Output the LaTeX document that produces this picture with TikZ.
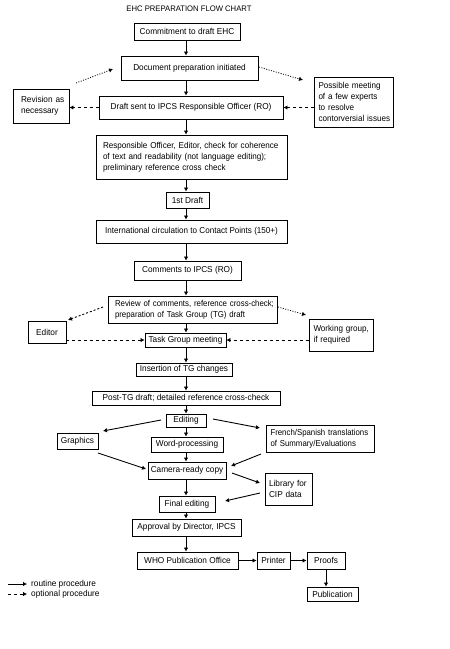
\documentclass[tikz,border=0pt]{standalone}
\usepackage{fontspec}
\setmainfont[FakeStretch=0.96]{Liberation Sans}
\newfontfamily\narrowf[FakeStretch=0.91]{Liberation Sans}
\newfontfamily\semif[FakeStretch=0.94]{Liberation Sans}
\usetikzlibrary{arrows.meta,calc}
\newcommand{\fsz}{\fontsize{8.6}{11}\selectfont}
\newcommand{\lx}[1]{\mbox{#1}}
\begin{document}
\begin{tikzpicture}[x=1pt,y=-1pt,
  box/.style={draw, line width=0.9pt, inner sep=0pt, font=\fsz},
  lbox/.style={box, align=left},
  arr/.style={line width=0.9pt, -{Latex[length=4pt,width=4.5pt]}},
  dsh/.style={arr, dash pattern=on 3pt off 3pt},
  dsm/.style={arr, dash pattern=on 2pt off 2pt},
  dot/.style={arr, line width=0.8pt, dash pattern=on 1pt off 1.5pt},
  lab/.style={font=\fsz, inner sep=0pt, anchor=west}]
\useasboundingbox (0,0) rectangle (450,649);
\fill[white] (0,0) rectangle (450,649);
\node[font=\fontsize{8}{10}\selectfont] (title) at (189,9) {EHC PREPARATION FLOW CHART};
\coordinate (sp) at (186,0);
% boxes
\node[box, minimum width=106, minimum height=17] (commit) at (187,31.5) {Commitment to draft EHC};
\node[box, minimum width=137, minimum height=24] (docprep) at (189.5,68) {Document preparation initiated};
\node[box, minimum width=184, minimum height=23] (draft) at (191,107.5) {Draft sent to IPCS Responsible Officer (RO)};
\node[lbox, minimum height=34, text width=40, inner xsep=8] (revision) at (41,106) {\lx{Revision as}\\\lx{necessary}};
\node[lbox, minimum height=50, text width=70, inner xsep=4.5, font=\fsz\semif] (possible) at (353.5,102) {\lx{Possible meeting}\\\lx{of a few experts}\\\lx{to resolve}\\\lx{contorversial issues}};
\node[lbox, minimum height=44, text width=177, inner xsep=7, font=\fsz\semif] (resp) at (191.5,157) {\lx{Responsible Officer, Editor, check for coherence}\\\lx{of text and readability (not language editing);}\\\lx{preliminary reference cross check}};
\node[box, minimum width=43, minimum height=16] (first) at (187.5,200) {1st Draft};
\node[box, minimum width=191, minimum height=23, font=\fsz\semif] (intl) at (191.5,231.5) {International circulation to Contact Points (150+)};
\node[box, minimum width=107, minimum height=19] (comments) at (187.5,270.5) {Comments to IPCS (RO)};
\node[lbox, minimum height=27, text width=155, inner xsep=7, font=\fsz\narrowf] (review) at (192.5,309.5) {\lx{Review of comments, reference cross-check;}\\\lx{preparation of Task Group (TG) draft}};
\node[box, minimum width=38, minimum height=22] (editor) at (47,332) {Editor};
\node[box, minimum width=81, minimum height=14] (tgm) at (185.5,340) {Task Group meeting};
\node[lbox, minimum height=32, text width=55, inner xsep=4.5, font=\fsz\semif] (working) at (341,335) {\lx{Working group,}\\\lx{if required}};
\node[box, minimum width=96, minimum height=13] (insert) at (184,369.5) {Insertion of TG changes};
\node[box, minimum width=188, minimum height=14] (post) at (186,398) {Post-TG draft; detailed reference cross-check};
\node[box, minimum width=40, minimum height=13] (editing) at (186,420.5) {Editing};
\node[box, minimum width=41, minimum height=16] (graphics) at (77.5,441) {Graphics};
\node[box, minimum width=72, minimum height=15] (word) at (187,444.5) {Word-processing};
\node[lbox, minimum height=27, text width=99, inner xsep=4.5, font=\fsz\narrowf] (french) at (320,438.5) {\lx{French/Spanish translations}\\\lx{of Summary/Evaluations}};
\node[box, minimum width=78, minimum height=17] (camera) at (187,470.5) {Camera-ready copy};
\node[lbox, minimum height=32, text width=39, inner xsep=4] (library) at (288.5,489) {\lx{Library for}\\\lx{CIP data}};
\node[box, minimum width=56, minimum height=16] (final) at (187,504) {Final editing};
\node[box, minimum width=109, minimum height=17] (approval) at (186.5,527.5) {Approval by Director, IPCS};
\node[box, minimum width=101, minimum height=17] (who) at (187.5,560.5) {WHO Publication Office};
\node[box, minimum width=33, minimum height=17] (printer) at (273.5,560.5) {Printer};
\node[box, minimum width=38, minimum height=17] (proofs) at (326,560.5) {Proofs};
\node[box, minimum width=51, minimum height=14] (publication) at (332.5,594) {Publication};
% main spine
\foreach \a/\b in {commit/docprep, docprep/draft, draft/resp, resp/first, first/intl, intl/comments, comments/review, review/tgm, tgm/insert, insert/post, post/editing, editing/word, word/camera, camera/final, final/approval, approval/who}
  \draw[arr] (\a.south -| sp) -- (\b.north -| sp);
\draw[arr] (who) -- (printer);
\draw[arr] (printer) -- (proofs);
\draw[arr] (proofs.south -| publication.north) ++(-6.5,0) coordinate (pp) -- (pp |- publication.north);
% optional procedures
\coordinate (o1s) at (76,83); \coordinate (o1e) at (113,69);
\draw[dot] (o1s) -- (o1e);
\coordinate (o2s) at (259,67); \coordinate (o2e) at (303,80);
\draw[dot] (o2s) -- (o2e);
\draw[dsh] (draft.west) -- (draft.west -| revision.east);
\draw[dsh] (possible.west |- draft.east) -- (draft.east);
\coordinate (o3s) at (103,307); \coordinate (o3e) at (68,320);
\draw[dsm] (o3s) -- (o3e);
\coordinate (o4s) at (278,307); \coordinate (o4e) at (306,315);
\draw[dot] (o4s) -- (o4e);
\draw[dsh] (editor.east |- tgm.west) -- (tgm.west);
\draw[dsh] (working.west |- tgm.east) -- (tgm.east);
% side routes
\coordinate (r1s) at (161,420); \coordinate (r1e) at (103,431);
\draw[arr] (r1s) -- (r1e);
\coordinate (r2s) at (213,419); \coordinate (r2e) at (260,428);
\draw[arr] (r2s) -- (r2e);
\coordinate (r3s) at (98,453); \coordinate (r3e) at (146,469);
\draw[arr] (r3s) -- (r3e);
\coordinate (r4s) at (261,454); \coordinate (r4e) at (231,466);
\draw[arr] (r4s) -- (r4e);
\coordinate (r5s) at (232,473); \coordinate (r5e) at (260,483);
\draw[arr] (r5s) -- (r5e);
\coordinate (r6s) at (260,493); \coordinate (r6e) at (225,501);
\draw[arr] (r6s) -- (r6e);
% legend
\coordinate (l1s) at (8,584); \coordinate (l1e) at (27,584);
\draw[arr] (l1s) -- (l1e);
\node[lab] (l1) at (31,584) {routine procedure};
\coordinate (l2s) at (8,594); \coordinate (l2e) at (27,594);
\draw[dsh] (l2s) -- (l2e);
\node[lab] (l2) at (31,594) {optional procedure};
\end{tikzpicture}
\end{document}
